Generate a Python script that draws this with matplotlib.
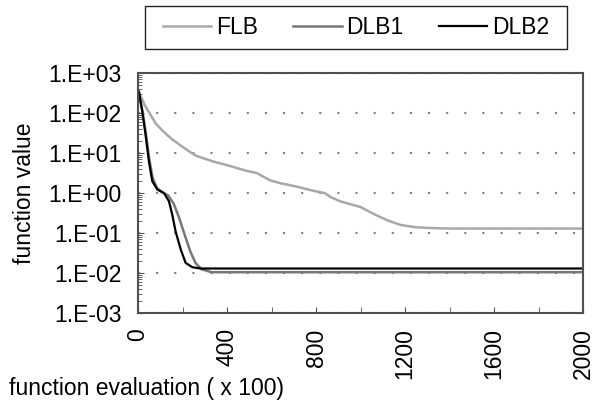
import matplotlib
matplotlib.use("Agg")
import matplotlib.pyplot as plt
from matplotlib.patches import Rectangle
from matplotlib.ticker import FixedLocator, FixedFormatter, MultipleLocator, LogLocator, NullFormatter

plt.rcParams['font.family'] = ['Liberation Sans', 'DejaVu Sans']
FS = 16.5

# values
flb_x = [0, 15, 30, 52, 80, 114, 150, 189, 242, 264, 338, 413, 489, 533, 593, 638,
         713, 788, 840, 865, 910, 1000, 1060, 1120, 1180, 1250, 1330, 1400, 2000]
flb_y = [380, 250, 160, 100, 55, 35, 23, 16, 10, 8.5, 6.2, 4.8, 3.6, 3.2, 2.1, 1.78,
         1.46, 1.15, 1.0, 0.8, 0.62, 0.45, 0.30, 0.21, 0.16, 0.14, 0.133, 0.13, 0.13]

dlb1_x = [0, 20, 35, 50, 65, 85, 110, 135, 160, 185, 210, 235, 258, 285, 330, 2000]
dlb1_y = [380, 115, 32, 7.5, 2.5, 1.35, 1.05, 0.88, 0.55, 0.24, 0.09, 0.035, 0.018,
          0.0125, 0.0105, 0.0105]

dlb2_x = [0, 5, 19, 34, 49, 64, 87, 117, 139, 154, 169, 192, 214, 244, 282, 2000]
dlb2_y = [380, 330, 112, 29, 6.3, 2.0, 1.23, 1.0, 0.63, 0.29, 0.11, 0.039, 0.018,
          0.014, 0.013, 0.013]

y_ticks = [1e-3, 1e-2, 1e-1, 1e0, 1e1, 1e2, 1e3]
y_tick_labels = ["1.E-03", "1.E-02", "1.E-01", "1.E+00", "1.E+01", "1.E+02", "1.E+03"]

fig = plt.figure(figsize=(5.93, 4.04), dpi=100)
ax = fig.add_axes([138 / 593, 1 - 313 / 404, 445 / 593, (313 - 73.3) / 404])

ax.plot(flb_x, flb_y, color="#a8a8a8", lw=1.8, label="FLB")
ax.plot(dlb1_x, dlb1_y, color="#777777", lw=1.8, label="DLB1")
ax.plot(dlb2_x, dlb2_y, color="#000000", lw=1.6, label="DLB2")

ax.set_yscale("log")
ax.set_ylim(1e-3, 1e3)
ax.set_xlim(0, 2000)

ax.yaxis.set_major_locator(FixedLocator(y_ticks))
ax.yaxis.set_major_formatter(FixedFormatter(y_tick_labels))
ax.yaxis.set_minor_locator(LogLocator(base=10, subs=range(2, 10)))
ax.yaxis.set_minor_formatter(NullFormatter())
ax.xaxis.set_major_locator(MultipleLocator(400))
ax.xaxis.set_minor_locator(MultipleLocator(200))

ax.tick_params(axis="both", which="both", direction="in", labelsize=FS,
               color="#505050", right=False, top=False)
ax.tick_params(axis="y", which="major", length=4, pad=12)
ax.tick_params(axis="y", which="minor", length=3)
ax.tick_params(axis="x", which="both", length=4, pad=11)
for lab in ax.get_xticklabels():
    lab.set_rotation(90)

ax.grid(axis="y", which="major", color="#808080", lw=1.5, linestyle=(0, (1, 7.7)))
for s in ax.spines.values():
    s.set_color("#505050")
    s.set_linewidth(1.5)

fig.text(25 / 593, 1 - 193 / 404, "function value", rotation=90,
         ha="center", va="center", fontsize=FS)
fig.text(9 / 593, 1 - 388 / 404, "function evaluation ( x 100)",
         ha="left", va="center", fontsize=FS)

# legend box drawn separately so its height and width can differ in padding
fig.patches.append(Rectangle((145 / 593, 1 - 49.3 / 404), 422 / 593, 43.6 / 404,
                             transform=fig.transFigure, fill=False,
                             edgecolor="#202020", lw=1.0))
fig.legend(loc="center", bbox_to_anchor=(356 / 593, 1 - 27.5 / 404),
           ncol=3, fontsize=FS, frameon=False, handlelength=2.1,
           handletextpad=0.2, columnspacing=1.55, borderaxespad=0)

fig.savefig("out.png", dpi=100)
